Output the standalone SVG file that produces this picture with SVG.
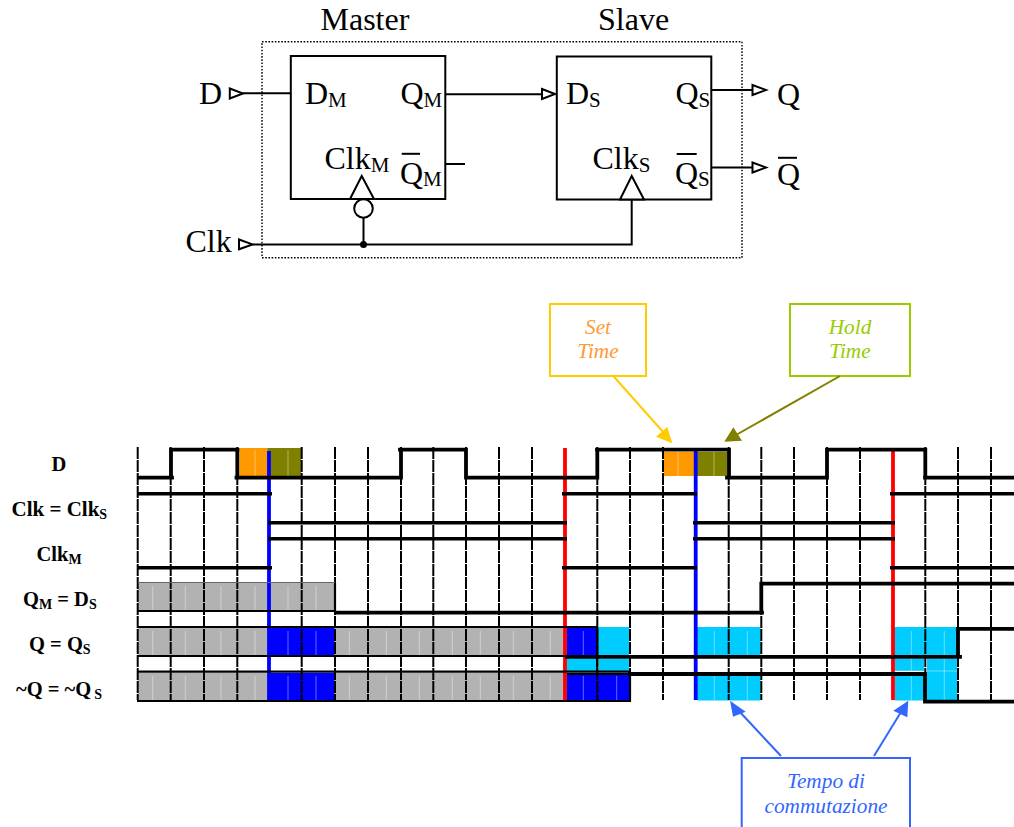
<svg xmlns="http://www.w3.org/2000/svg" width="1014" height="827" viewBox="0 0 1014 827">
<style>
text{font-family:"Liberation Serif","Times New Roman",serif;fill:#000}
.big{font-size:32px}
.sub{font-size:21px}
.lab{font-size:20.5px;font-weight:bold}
.lsub{font-size:14px}
.note{font-size:21.3px;font-style:italic;text-anchor:middle}
.w{fill:none;stroke:#000;stroke-width:2}
.box{fill:#fff;stroke:#000;stroke-width:2}
.tri{fill:#fff;stroke:#000;stroke-width:2;stroke-linejoin:miter}
.bar{stroke:#000;stroke-width:2}
.grid{stroke:#000;stroke-width:2;stroke-dasharray:12 1;fill:none}
.sig{stroke:#000;stroke-width:3.8;stroke-linecap:square;fill:none}
.thin{stroke:#000;stroke-width:2.2;fill:none}
.sh{stroke:#000;stroke-width:3.4;fill:none}
.hl{stroke:#fff;stroke-opacity:.4;stroke-width:1;fill:none}
.gr{fill:#b2b2b2}.bl{fill:#0000ff}.cy{fill:#00ccff}.or{fill:#ff9900}.ol{fill:#808000}
</style>

<rect id="enclosure" x="262" y="41.7" width="480" height="216" fill="none" stroke="#000" stroke-width="1.4" stroke-dasharray="1.6 1.6"/>

<g id="connectors">
<path class="w" d="M243 93.3H291M445 94.3H542M445 164H465M711 90H752M711 167.5H752M252.7 244.4H631.7V199.5M363.5 218V244.4"/>
<circle cx="363.5" cy="244.4" r="3.5" fill="#000"/>
<polygon class="tri" points="229.8,88.5 243,93.5 229.8,98.5"/>
<polygon class="tri" points="239,239.5 252.5,244.4 239,249.3"/>
<polygon class="tri" points="542,89 555,94 542,99"/>
<polygon class="tri" points="752.5,85 766,90 752.5,95"/>
<polygon class="tri" points="752.5,162.5 766,167.5 752.5,172.5"/>
</g>

<g id="master">
<rect class="box" x="290.8" y="56" width="154.5" height="143"/>
<polygon class="tri" points="361.7,176 350,199 374,199"/>
<circle class="tri" cx="363.5" cy="208.5" r="9.3"/>
<text class="big" x="320.5" y="30">Master</text>
<text class="big" x="305" y="104">D<tspan class="sub" dy="2.5">M</tspan></text>
<text class="big" x="400.5" y="104">Q<tspan class="sub" dy="2.5">M</tspan></text>
<text class="big" x="324.5" y="169">Clk<tspan class="sub" dy="2.5">M</tspan></text>
<text class="big" x="400" y="183.5">Q<tspan class="sub" dy="2.5">M</tspan></text>
<line class="bar" x1="401.7" x2="420" y1="153.8" y2="153.8"/>
</g>

<g id="slave">
<rect class="box" x="556.8" y="56.5" width="154.5" height="143"/>
<polygon class="tri" points="631.7,176 620,199.5 644,199.5"/>
<text class="big" x="598" y="30">Slave</text>
<text class="big" x="566" y="104">D<tspan class="sub" dy="2.5">S</tspan></text>
<text class="big" x="675.5" y="104">Q<tspan class="sub" dy="2.5">S</tspan></text>
<text class="big" x="592.5" y="169">Clk<tspan class="sub" dy="2.5">S</tspan></text>
<text class="big" x="675" y="183.5">Q<tspan class="sub" dy="2.5">S</tspan></text>
<line class="bar" x1="676.7" x2="696.7" y1="154" y2="154"/>
</g>

<g id="ports">
<text class="big" x="199" y="104">D</text>
<text class="big" x="185.5" y="252">Clk</text>
<text class="big" x="777" y="105">Q</text>
<text class="big" x="777" y="185">Q</text>
<line class="bar" x1="778" x2="797" y1="157.8" y2="157.8"/>
</g>

<g id="signal-labels">
<text class="lab" x="51.5" y="471">D</text>
<text class="lab" x="11.5" y="516" style="font-size:21px">Clk = Clk<tspan class="lsub" dy="3">S</tspan></text>
<text class="lab" x="36.5" y="561">Clk<tspan class="lsub" dy="3">M</tspan></text>
<text class="lab" x="23" y="606">Q<tspan class="lsub" dy="3">M</tspan><tspan dy="-3"> = D</tspan><tspan class="lsub" dy="3">S</tspan></text>
<text class="lab" x="29" y="651">Q = Q<tspan class="lsub" dy="3">S</tspan></text>
<text class="lab" x="16" y="696">~Q = ~Q <tspan class="lsub" dy="2.5" dx="-2">S</tspan></text>
</g>

<g id="waveform-fills">
<rect class="or" x="239.3" y="448" width="28" height="29"/>
<rect class="ol" x="267.3" y="448" width="33.7" height="29"/>
<rect class="or" x="664" y="452" width="31" height="24"/>
<rect class="ol" x="695" y="452" width="32" height="24"/>
<rect class="gr" x="138" y="582.7" width="197" height="28"/>
<rect class="gr" x="138" y="628" width="131" height="27"/>
<rect class="bl" x="269" y="628" width="65.5" height="27"/>
<rect class="gr" x="335" y="628" width="231" height="27"/>
<rect class="bl" x="566.5" y="628" width="31" height="27"/>
<rect class="cy" x="598" y="627" width="31" height="28"/>
<rect class="cy" x="697" y="627" width="63.5" height="28"/>
<rect class="cy" x="894" y="627" width="63" height="28"/>
<rect class="gr" x="138" y="673" width="131" height="27.5"/>
<rect class="bl" x="269" y="673" width="65.5" height="27.5"/>
<rect class="gr" x="335" y="673" width="231" height="27.5"/>
<rect class="bl" x="566.5" y="673" width="63.5" height="27.5"/>
<rect class="cy" x="566.5" y="657" width="31" height="15"/>
<rect class="cy" x="599" y="659" width="30" height="13"/>
<rect class="cy" x="697" y="675" width="63.5" height="25.5"/>
<rect class="cy" x="895" y="659" width="29" height="12"/>
<rect class="cy" x="895" y="675" width="29" height="25.5"/>
<rect class="cy" x="927" y="659" width="30" height="41.5"/>
<path class="hl" d="M255 450V476M288 450V476M678 452V476M714 452V476M152.7 586V610M185.3 586V610M221 586V610M255 586V610M288 586V610M316 586V610M152.7 631V655M185.3 631V655M221 631V655M255 631V655M288 631V655M316 631V655M349.3 631V655M386.3 631V655M419.3 631V655M452.3 631V655M480.3 631V655M513.3 631V655M550.3 631V655M583.3 631V655M714.3 631V655M747.3 631V655M911.3 631V655M944.3 631V655M152.7 676V700M185.3 676V700M221 676V700M255 676V700M288 676V700M316 676V700M349.3 676V700M386.3 676V700M419.3 676V700M452.3 676V700M480.3 676V700M513.3 676V700M550.3 676V700M583.3 676V700M616.7 676V700M714.3 676V700M747.3 676V700M911.3 659V700M944.3 659V700M895 671H957"/>
</g>

<g id="time-grid">
<path class="grid" d="M137.7 447V700M170.7 447V700M204 447V700M237.3 447V700M301.7 447V700M335 447V700M368 447V700M401 447V700M433.3 447V700M466 447V700M499 447V700M532 447V700M597.3 447V700M630 447V700M663 447V700M728.7 447V700M761.3 447V700M794 447V700M827 447V700M860 447V700M925.3 447V700M958 447V700M991 447V700"/>
</g>

<g id="clock-edges">
<path d="M269 451V700M695.7 451V700" stroke="#0000ff" stroke-width="3.8" fill="none"/>
<path d="M565 448V700M893 451V700" stroke="#ff0000" stroke-width="3.8" fill="none"/>
</g>

<g id="waveforms">
<path class="sig" d="M139 477.7H172M171 477.7V449.7M171 449.7H237.5M237.3 449.7V477.7M236.5 477.7H400M401 477.7V449.7M400 449.7H466M466 449.7V477.7M466 477.7H597M597.3 477.7V449.7M597 449.7H729M729 449.7V477.7M727 477.7H827M827 477.7V449.7M827 449.7H925M925.3 449.7V477.7M925 477.7H1014"/>
<path class="sh" d="M138 493.7H272M268 522.7H567M562 493.7H697M693 522.7H895M890 493.7H1014M138 567.7H272M268 538.7H567M562 567.7H697M693 538.7H895M890 567.7H1014"/>
<path class="sig" d="M336 612.7H762M761.3 612.7V583.7M761.3 583.7H1014M567 656.8H960M958 656.8V628.8M958 628.8H1014M630 674H924M925 674V701.7M925 701.7H1014"/>
<path class="thin" d="M138 611H335M138 627H597M138 656H566M138 671.7H630M137 701H631M630 673V701M335 583V611M597.3 628V671M567 674H630"/>
<path stroke="#666" stroke-width="1" fill="none" d="M138 582.5H335"/>
</g>

<g id="callout-set">
<rect x="550" y="304" width="96" height="72" fill="none" stroke="#ffcc00" stroke-width="2"/>
<text class="note" x="598" y="334" style="fill:#ff9933">Set</text>
<text class="note" x="598" y="358" style="fill:#ff9933">Time</text>
</g>
<g id="callout-hold">
<rect x="790" y="304" width="120" height="72" fill="none" stroke="#99cc00" stroke-width="2"/>
<text class="note" x="850" y="334" style="fill:#99cc00">Hold</text>
<text class="note" x="850" y="358" style="fill:#99cc00">Time</text>
</g>
<g id="callout-tempo">
<rect x="741.7" y="758" width="168.3" height="80" fill="none" stroke="#3366ff" stroke-width="2"/>
<text class="note" x="826" y="788" style="fill:#3366ff">Tempo di</text>
<text class="note" x="826" y="813" style="fill:#3366ff">commutazione</text>
</g>

<g id="callout-connectors">
<line x1="613.3" y1="376" x2="664" y2="433" stroke="#ffcc00" stroke-width="2"/>
<polygon points="672.3,443.3 656,436.7 667.3,427" fill="#ffcc00"/>
<line x1="840" y1="376" x2="736" y2="435" stroke="#808000" stroke-width="2"/>
<polygon points="724.3,441.7 733.3,427.3 742,440.7" fill="#808000"/>
<line x1="781" y1="756" x2="738" y2="710" stroke="#3366ff" stroke-width="2"/>
<polygon points="730,700.7 733,716.7 745.7,711.7" fill="#3366ff"/>
<line x1="874" y1="756" x2="901" y2="712" stroke="#3366ff" stroke-width="2"/>
<polygon points="908.3,700.7 893.3,710.7 907.3,717.3" fill="#3366ff"/>
</g>
</svg>
